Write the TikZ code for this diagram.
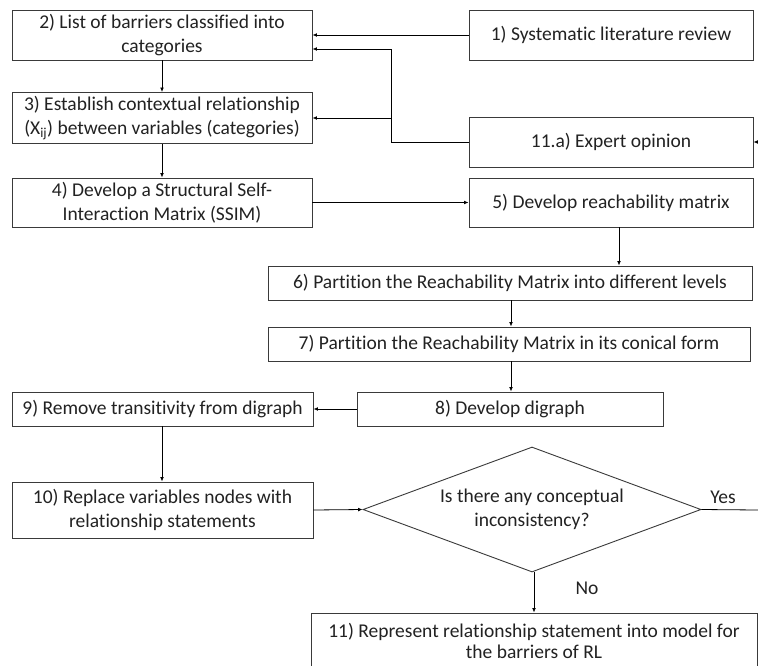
\documentclass[tikz,border=0pt]{standalone}
\usepackage{fontspec}
\setmainfont{Carlito}[Ligatures={NoCommon,NoRare,NoContextual},Contextuals=NoAlternate]
\usetikzlibrary{arrows.meta,shapes.geometric}
\definecolor{ln}{HTML}{3A3A3A}
\definecolor{tx}{HTML}{222222}
\tikzset{
  box/.style={draw=ln, line width=0.9pt, rectangle, align=center, inner sep=0pt, text=tx,
              font=\fontsize{19.5}{23.5}\selectfont},
  dia/.style={draw=ln, line width=0.9pt, diamond, aspect=2.7, align=center, inner sep=0pt, text=tx,
              font=\fontsize{19.5}{23.5}\selectfont, minimum width=338pt, minimum height=125pt},
  lbl/.style={text=tx, font=\fontsize{19.5}{23.5}\selectfont, inner sep=0pt},
  arr/.style={draw=black, line width=0.8pt, -{Latex[length=4.5pt,width=3.8pt]}},
  ln/.style={draw=black, line width=0.8pt}
}
\begin{document}
\begin{tikzpicture}[x=1pt,y=-1pt]
\useasboundingbox (0,0) rectangle (758,665);
\clip (0,0) rectangle (758,665);
\fill[white] (0,0) rectangle (758,665);
% boxes
\node[box, minimum width=284pt, minimum height=50pt] (b1) at (611,35) {1) Systematic literature review};
\node[box, minimum width=300pt, minimum height=50pt] (b2) at (162,35) {2) List of barriers classified into\\categories};
\node[box, minimum width=300pt, minimum height=51pt] (b3) at (162,118) {3) Establish contextual relationship\\(X\textsubscript{ij}) between variables (categories)};
\node[box, minimum width=300pt, minimum height=49pt] (b4) at (162,202.5) {4) Develop a Structural Self-\\Interaction Matrix (SSIM)};
\node[box, minimum width=284pt, minimum height=50pt] (b11a) at (611,142) {11.a) Expert opinion};
\node[box, minimum width=284pt, minimum height=49pt] (b5) at (611,202.5) {5) Develop reachability matrix};
\node[box, minimum width=484pt, minimum height=34pt] (b6) at (510,283) {6) Partition the Reachability Matrix into different levels};
\node[box, minimum width=482pt, minimum height=34pt] (b7) at (509,344) {7) Partition the Reachability Matrix in its conical form};
\node[box, minimum width=306pt, minimum height=34pt] (b8) at (510,409) {8) Develop digraph};
\node[box, minimum width=301pt, minimum height=34pt] (b9) at (162.5,409) {9) Remove transitivity from digraph};
\node[box, minimum width=301pt, minimum height=56pt] (b10) at (162.5,510) {10) Replace variables nodes with\\relationship statements};
\node[dia] (dm) at (532,509.5) {Is there any conceptual\\inconsistency?};
\node[box, minimum width=446pt, minimum height=56pt, font=\fontsize{19.5}{21.5}\selectfont] (b11) at (534,641) {11) Represent relationship statement into model for\\the barriers of RL};
% coordinates
\coordinate (e1) at (391,49);
\coordinate (e2) at (391,118);
\coordinate (r1) at (758,142);
\coordinate (r2) at (758,510);
\coordinate (k5) at (619,0);
\coordinate (k6) at (511,0);
\coordinate (k9) at (162,0);
\coordinate (kd) at (534,0);
% connectors
\draw[arr] (b1.west) -- (b2.east);
\draw[arr] (b11a.west) -| (e1) -- (b2.east |- e1);
\draw[arr] (e2) -- (b3.east |- e2);
\draw[arr] (r1) -- (b11a.east);
\draw[arr] (b2.south -| k9) -- (b3.north -| k9);
\draw[arr] (b3.south -| k9) -- (b4.north -| k9);
\draw[arr] (b4.east) -- (b5.west);
\draw[arr] (b5.south -| k5) -- (b6.north -| k5);
\draw[arr] (b6.south -| k6) -- (b7.north -| k6);
\draw[arr] (b7.south -| k6) -- (b8.north -| k6);
\draw[arr] (b8.west) -- (b9.east);
\draw[arr] (b9.south -| k9) -- (b10.north -| k9);
\draw[arr] (b10.east) -- (dm.west);
\draw[ln] (dm.east) -- (r2);
\draw[arr] (dm.south -| kd) -- (b11.north -| kd);
\node[lbl] (yes) at (723,497) {Yes};
\node[lbl] (no) at (587,588) {No};
\end{tikzpicture}
\end{document}
